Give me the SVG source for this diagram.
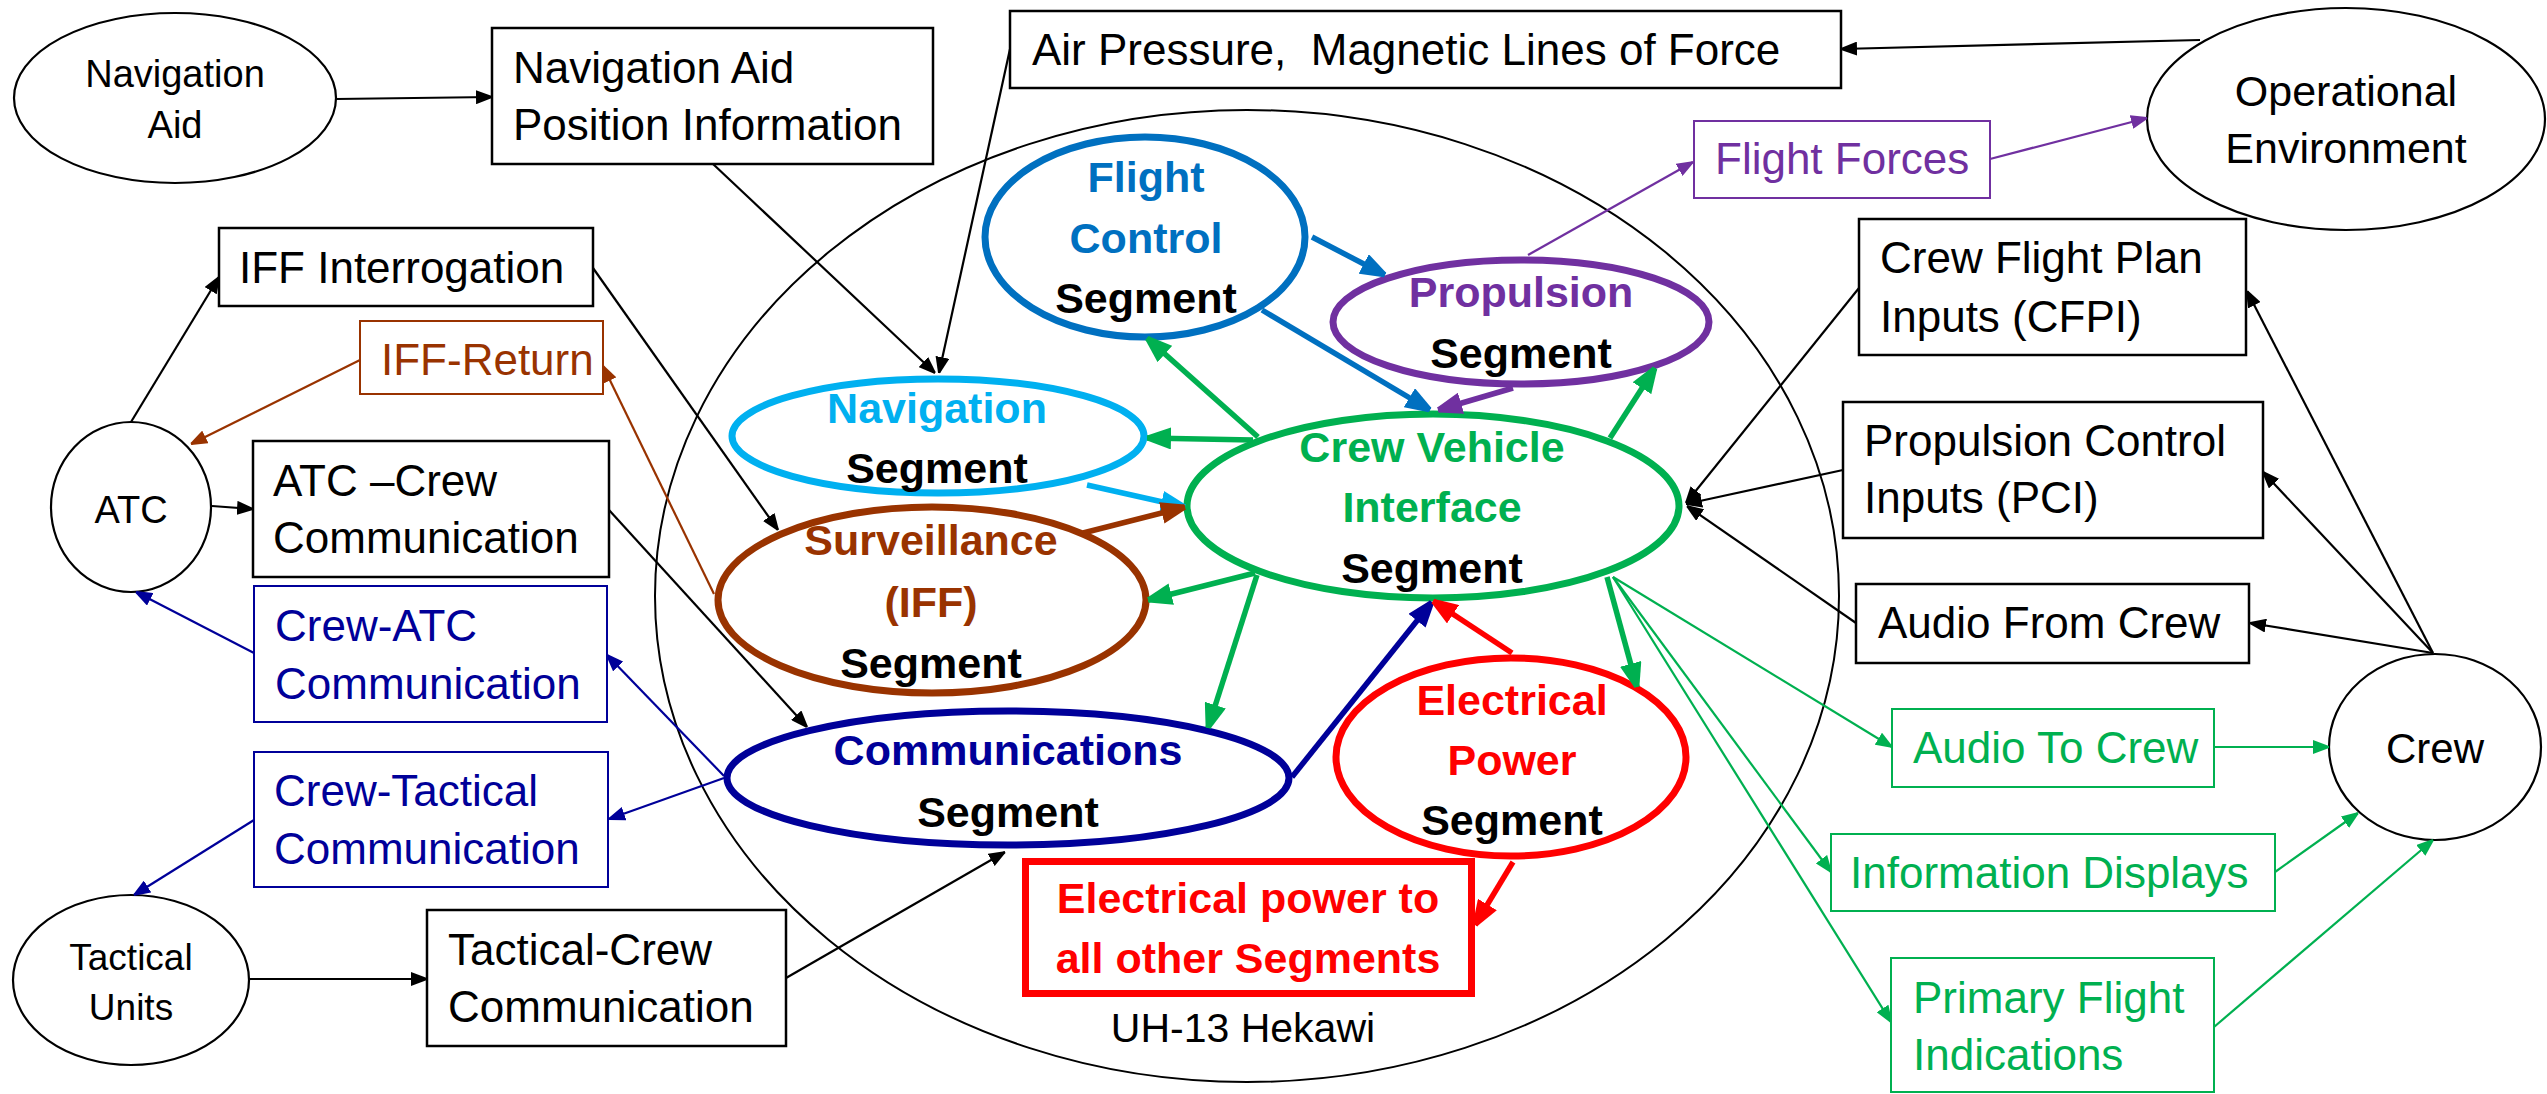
<svg xmlns="http://www.w3.org/2000/svg" width="2547" height="1094" viewBox="0 0 2547 1094">
  <style>
    text { font-family: "Liberation Sans", Arial, sans-serif; fill: #000; }
    .n { font-size: 44px; }
    .c { text-anchor: middle; }
    .b { font-weight: bold; font-size: 43px; text-anchor: middle; }
    .box { fill: #fff; stroke: #000; stroke-width: 2.5; }
    .node { fill: #fff; stroke: #000; stroke-width: 2.2; }
    .seg { fill: none; stroke-width: 7; }
    .ln { fill: none; stroke-width: 2.2; }
    .th { fill: none; stroke-width: 5.5; }
  </style>
  <defs>
    <!-- thin arrowheads -->
    <marker id="hK" viewBox="0 0 16 14" markerWidth="16" markerHeight="14" refX="16" refY="7" orient="auto" markerUnits="userSpaceOnUse"><path d="M0,0 L16,6 L16,8 L0,14 z" fill="#000"/></marker>
    <marker id="hBr" viewBox="0 0 16 14" markerWidth="16" markerHeight="14" refX="16" refY="7" orient="auto" markerUnits="userSpaceOnUse"><path d="M0,0 L16,6 L16,8 L0,14 z" fill="#993300"/></marker>
    <marker id="hDb" viewBox="0 0 16 14" markerWidth="16" markerHeight="14" refX="16" refY="7" orient="auto" markerUnits="userSpaceOnUse"><path d="M0,0 L16,6 L16,8 L0,14 z" fill="#000099"/></marker>
    <marker id="hPu" viewBox="0 0 16 14" markerWidth="16" markerHeight="14" refX="16" refY="7" orient="auto" markerUnits="userSpaceOnUse"><path d="M0,0 L16,6 L16,8 L0,14 z" fill="#7030A0"/></marker>
    <marker id="hGr" viewBox="0 0 16 14" markerWidth="16" markerHeight="14" refX="16" refY="7" orient="auto" markerUnits="userSpaceOnUse"><path d="M0,0 L16,6 L16,8 L0,14 z" fill="#00B050"/></marker>
    <!-- thick arrowheads -->
    <marker id="HGr" viewBox="0 0 24 22" markerWidth="24" markerHeight="22" refX="24" refY="11" orient="auto" markerUnits="userSpaceOnUse"><path d="M0,0 L24,8.5 L24,13.5 L0,22 z" fill="#00B050"/></marker>
    <marker id="HBl" viewBox="0 0 24 22" markerWidth="24" markerHeight="22" refX="24" refY="11" orient="auto" markerUnits="userSpaceOnUse"><path d="M0,0 L24,8.5 L24,13.5 L0,22 z" fill="#0070C0"/></marker>
    <marker id="HLb" viewBox="0 0 24 22" markerWidth="24" markerHeight="22" refX="24" refY="11" orient="auto" markerUnits="userSpaceOnUse"><path d="M0,0 L24,8.5 L24,13.5 L0,22 z" fill="#00B0F0"/></marker>
    <marker id="HBr" viewBox="0 0 24 22" markerWidth="24" markerHeight="22" refX="24" refY="11" orient="auto" markerUnits="userSpaceOnUse"><path d="M0,0 L24,8.5 L24,13.5 L0,22 z" fill="#993300"/></marker>
    <marker id="HDb" viewBox="0 0 24 22" markerWidth="24" markerHeight="22" refX="24" refY="11" orient="auto" markerUnits="userSpaceOnUse"><path d="M0,0 L24,8.5 L24,13.5 L0,22 z" fill="#000099"/></marker>
    <marker id="HPu" viewBox="0 0 24 22" markerWidth="24" markerHeight="22" refX="24" refY="11" orient="auto" markerUnits="userSpaceOnUse"><path d="M0,0 L24,8.5 L24,13.5 L0,22 z" fill="#7030A0"/></marker>
    <marker id="HRd" viewBox="0 0 24 22" markerWidth="24" markerHeight="22" refX="24" refY="11" orient="auto" markerUnits="userSpaceOnUse"><path d="M0,0 L24,8.5 L24,13.5 L0,22 z" fill="#FF0000"/></marker>
  </defs>

  <rect width="2547" height="1094" fill="#fff"/>

  <!-- aircraft boundary -->
  <g id="uh13">
    <ellipse cx="1247" cy="596" rx="592" ry="486" fill="none" stroke="#000" stroke-width="2"/>
    <text x="1243" y="1042" class="c" font-size="41">UH-13 Hekawi</text>
  </g>

  <!-- external nodes -->
  <g id="navaid">
    <ellipse class="node" cx="175" cy="98" rx="161" ry="85"/>
    <text x="175" y="87" class="c" font-size="38">Navigation</text>
    <text x="175" y="138" class="c" font-size="38">Aid</text>
  </g>
  <g id="atc">
    <ellipse class="node" cx="131" cy="507" rx="80" ry="85"/>
    <text x="131" y="523" class="c" font-size="38">ATC</text>
  </g>
  <g id="tactical">
    <ellipse class="node" cx="131" cy="980" rx="118" ry="85"/>
    <text x="131" y="970" class="c" font-size="37">Tactical</text>
    <text x="131" y="1020" class="c" font-size="37">Units</text>
  </g>
  <g id="openv">
    <ellipse class="node" cx="2346" cy="119" rx="199" ry="111"/>
    <text x="2346" y="106" class="c" font-size="43">Operational</text>
    <text x="2346" y="163" class="c" font-size="43">Environment</text>
  </g>
  <g id="crew">
    <ellipse class="node" cx="2435" cy="747" rx="106" ry="93"/>
    <text x="2435" y="763" class="c" font-size="42">Crew</text>
  </g>

  <!-- information boxes -->
  <g id="navpos">
    <rect class="box" x="492" y="28" width="441" height="136"/>
    <text x="513" y="83" class="n">Navigation Aid</text>
    <text x="513" y="140" class="n">Position Information</text>
  </g>
  <g id="iffint">
    <rect class="box" x="219" y="228" width="374" height="78"/>
    <text x="239" y="283" class="n">IFF Interrogation</text>
  </g>
  <g id="iffret">
    <rect class="box" x="360" y="321" width="243" height="73" style="stroke:#993300;stroke-width:2"/>
    <text x="381" y="375" class="n" style="fill:#993300" font-size="42">IFF-Return</text>
  </g>
  <g id="atccrew">
    <rect class="box" x="253" y="441" width="356" height="136"/>
    <text x="273" y="496" class="n">ATC –Crew</text>
    <text x="273" y="553" class="n">Communication</text>
  </g>
  <g id="crewatc">
    <rect class="box" x="254" y="586" width="353" height="136" style="stroke:#000099;stroke-width:2"/>
    <text x="275" y="641" class="n" style="fill:#000099">Crew-ATC</text>
    <text x="275" y="699" class="n" style="fill:#000099">Communication</text>
  </g>
  <g id="crewtac">
    <rect class="box" x="254" y="752" width="354" height="135" style="stroke:#000099;stroke-width:2"/>
    <text x="274" y="806" class="n" style="fill:#000099">Crew-Tactical</text>
    <text x="274" y="864" class="n" style="fill:#000099">Communication</text>
  </g>
  <g id="taccrew">
    <rect class="box" x="427" y="910" width="359" height="136"/>
    <text x="448" y="965" class="n">Tactical-Crew</text>
    <text x="448" y="1022" class="n">Communication</text>
  </g>
  <g id="airpress">
    <rect class="box" x="1010" y="11" width="831" height="77"/>
    <text x="1032" y="65" class="n" xml:space="preserve">Air Pressure,  Magnetic Lines of Force</text>
  </g>
  <g id="flightforces">
    <rect class="box" x="1694" y="121" width="296" height="77" style="stroke:#7030A0;stroke-width:2"/>
    <text x="1715" y="174" class="n" style="fill:#7030A0">Flight Forces</text>
  </g>
  <g id="cfpi">
    <rect class="box" x="1859" y="219" width="387" height="136"/>
    <text x="1880" y="273" class="n">Crew Flight Plan</text>
    <text x="1880" y="332" class="n">Inputs (CFPI)</text>
  </g>
  <g id="pci">
    <rect class="box" x="1843" y="402" width="420" height="136"/>
    <text x="1864" y="456" class="n">Propulsion Control</text>
    <text x="1864" y="513" class="n">Inputs (PCI)</text>
  </g>
  <g id="audiofrom">
    <rect class="box" x="1856" y="584" width="393" height="79"/>
    <text x="1878" y="638" class="n">Audio From Crew</text>
  </g>
  <g id="audioto">
    <rect class="box" x="1892" y="709" width="322" height="78" style="stroke:#00B050;stroke-width:2"/>
    <text x="1913" y="763" class="n" style="fill:#00B050">Audio To Crew</text>
  </g>
  <g id="infodisp">
    <rect class="box" x="1831" y="834" width="444" height="77" style="stroke:#00B050;stroke-width:2"/>
    <text x="1850" y="888" class="n" style="fill:#00B050">Information Displays</text>
  </g>
  <g id="pfi">
    <rect class="box" x="1891" y="958" width="323" height="134" style="stroke:#00B050;stroke-width:2"/>
    <text x="1913" y="1013" class="n" style="fill:#00B050">Primary Flight</text>
    <text x="1913" y="1070" class="n" style="fill:#00B050">Indications</text>
  </g>

  <!-- segments -->
  <g id="flightcontrol">
    <ellipse class="seg" cx="1145" cy="237" rx="160" ry="100" stroke="#0070C0"/>
    <text x="1146" y="192" class="b" style="fill:#0070C0">Flight</text>
    <text x="1146" y="253" class="b" style="fill:#0070C0">Control</text>
    <text x="1146" y="313" class="b">Segment</text>
  </g>
  <g id="propulsion">
    <ellipse class="seg" cx="1521" cy="322" rx="188" ry="62" stroke="#7030A0"/>
    <text x="1521" y="307" class="b" style="fill:#7030A0">Propulsion</text>
    <text x="1521" y="368" class="b">Segment</text>
  </g>
  <g id="navigation">
    <ellipse class="seg" cx="938" cy="436" rx="206" ry="57" stroke="#00B0F0"/>
    <text x="937" y="423" class="b" style="fill:#00B0F0">Navigation</text>
    <text x="937" y="483" class="b">Segment</text>
  </g>
  <g id="surveillance">
    <ellipse class="seg" cx="932" cy="600" rx="214" ry="93" stroke="#993300"/>
    <text x="931" y="555" class="b" style="fill:#993300">Surveillance</text>
    <text x="931" y="617" class="b" style="fill:#993300">(IFF)</text>
    <text x="931" y="678" class="b">Segment</text>
  </g>
  <g id="cvi">
    <ellipse class="seg" cx="1433" cy="506" rx="246" ry="92" stroke="#00B050"/>
    <text x="1432" y="462" class="b" style="fill:#00B050">Crew Vehicle</text>
    <text x="1432" y="522" class="b" style="fill:#00B050">Interface</text>
    <text x="1432" y="583" class="b">Segment</text>
  </g>
  <g id="communications">
    <ellipse class="seg" cx="1008" cy="778" rx="281" ry="67" stroke="#000099"/>
    <text x="1008" y="765" class="b" style="fill:#000099">Communications</text>
    <text x="1008" y="827" class="b">Segment</text>
  </g>
  <g id="electrical">
    <ellipse class="seg" cx="1511" cy="757" rx="175" ry="99" stroke="#FF0000"/>
    <text x="1512" y="715" class="b" style="fill:#FF0000">Electrical</text>
    <text x="1512" y="775" class="b" style="fill:#FF0000">Power</text>
    <text x="1512" y="835" class="b">Segment</text>
  </g>
  <g id="powerall">
    <rect x="1025.5" y="861.5" width="446" height="132" fill="#fff" stroke="#FF0000" stroke-width="7"/>
    <text x="1248" y="913" class="b" style="fill:#FF0000">Electrical power to</text>
    <text x="1248" y="973" class="b" style="fill:#FF0000">all other Segments</text>
  </g>

  <!-- connectors -->
  <g id="connectors">
    <!-- black -->
    <g stroke="#000" class="ln" marker-end="url(#hK)">
      <line x1="336" y1="99" x2="492" y2="97"/>
      <line x1="713" y1="164" x2="935" y2="373"/>
      <line x1="1010" y1="49" x2="939" y2="373"/>
      <line x1="593" y1="268" x2="778" y2="530"/>
      <line x1="131" y1="422" x2="219" y2="277"/>
      <line x1="212" y1="506" x2="253" y2="509"/>
      <line x1="609" y1="510" x2="807" y2="727"/>
      <line x1="249" y1="979" x2="427" y2="979"/>
      <line x1="786" y1="978" x2="1005" y2="852"/>
      <line x1="2200" y1="40" x2="1841" y2="49"/>
      <line x1="1859" y1="288" x2="1686" y2="503"/>
      <line x1="1843" y1="470" x2="1686" y2="504"/>
      <line x1="1856" y1="623" x2="1687" y2="506"/>
      <line x1="2433" y1="653" x2="2247" y2="291"/>
      <line x1="2433" y1="653" x2="2263" y2="472"/>
      <line x1="2433" y1="653" x2="2250" y2="623"/>
    </g>
    <!-- brown -->
    <g stroke="#993300" class="ln" stroke-width="2" marker-end="url(#hBr)">
      <line x1="714" y1="594" x2="603" y2="366"/>
      <line x1="360" y1="360" x2="191" y2="444"/>
    </g>
    <!-- dark blue -->
    <g stroke="#000099" class="ln" stroke-width="2" marker-end="url(#hDb)">
      <line x1="724" y1="776" x2="607" y2="655"/>
      <line x1="254" y1="653" x2="136" y2="592"/>
      <line x1="724" y1="778" x2="609" y2="819"/>
      <line x1="254" y1="820" x2="134" y2="895"/>
    </g>
    <!-- purple -->
    <g stroke="#7030A0" class="ln" stroke-width="2" marker-end="url(#hPu)">
      <line x1="1528" y1="255" x2="1693" y2="162"/>
      <line x1="1990" y1="159" x2="2147" y2="118"/>
    </g>
    <!-- green -->
    <g stroke="#00B050" class="ln" stroke-width="2" marker-end="url(#hGr)">
      <line x1="1613" y1="577" x2="1892" y2="747"/>
      <line x1="1613" y1="577" x2="1831" y2="872"/>
      <line x1="1613" y1="577" x2="1891" y2="1022"/>
      <line x1="2214" y1="747" x2="2329" y2="747"/>
      <line x1="2275" y1="872" x2="2358" y2="813"/>
      <line x1="2214" y1="1027" x2="2433" y2="840"/>
    </g>
    <!-- segment links -->
    <g class="th">
      <line x1="1312" y1="237" x2="1385" y2="275" stroke="#0070C0" marker-end="url(#HBl)"/>
      <line x1="1262" y1="310" x2="1430" y2="410" stroke="#0070C0" marker-end="url(#HBl)"/>
      <line x1="1513" y1="388" x2="1438" y2="410" stroke="#7030A0" marker-end="url(#HPu)"/>
      <line x1="1258" y1="437" x2="1147" y2="338" stroke="#00B050" marker-end="url(#HGr)"/>
      <line x1="1253" y1="440" x2="1147" y2="438" stroke="#00B050" marker-end="url(#HGr)"/>
      <line x1="1087" y1="485" x2="1185" y2="507" stroke="#00B0F0" marker-end="url(#HLb)"/>
      <line x1="1083" y1="533" x2="1185" y2="507" stroke="#993300" marker-end="url(#HBr)"/>
      <line x1="1255" y1="573" x2="1148" y2="600" stroke="#00B050" marker-end="url(#HGr)"/>
      <line x1="1257" y1="575" x2="1208" y2="728" stroke="#00B050" marker-end="url(#HGr)"/>
      <line x1="1292" y1="777" x2="1432" y2="602" stroke="#000099" marker-end="url(#HDb)"/>
      <line x1="1512" y1="653" x2="1433" y2="601" stroke="#FF0000" marker-end="url(#HRd)"/>
      <line x1="1610" y1="438" x2="1655" y2="368" stroke="#00B050" marker-end="url(#HGr)"/>
      <line x1="1607" y1="577" x2="1637" y2="687" stroke="#00B050" marker-end="url(#HGr)"/>
      <line x1="1513" y1="862" x2="1475" y2="925" stroke="#FF0000" marker-end="url(#HRd)"/>
    </g>
  </g>
</svg>
